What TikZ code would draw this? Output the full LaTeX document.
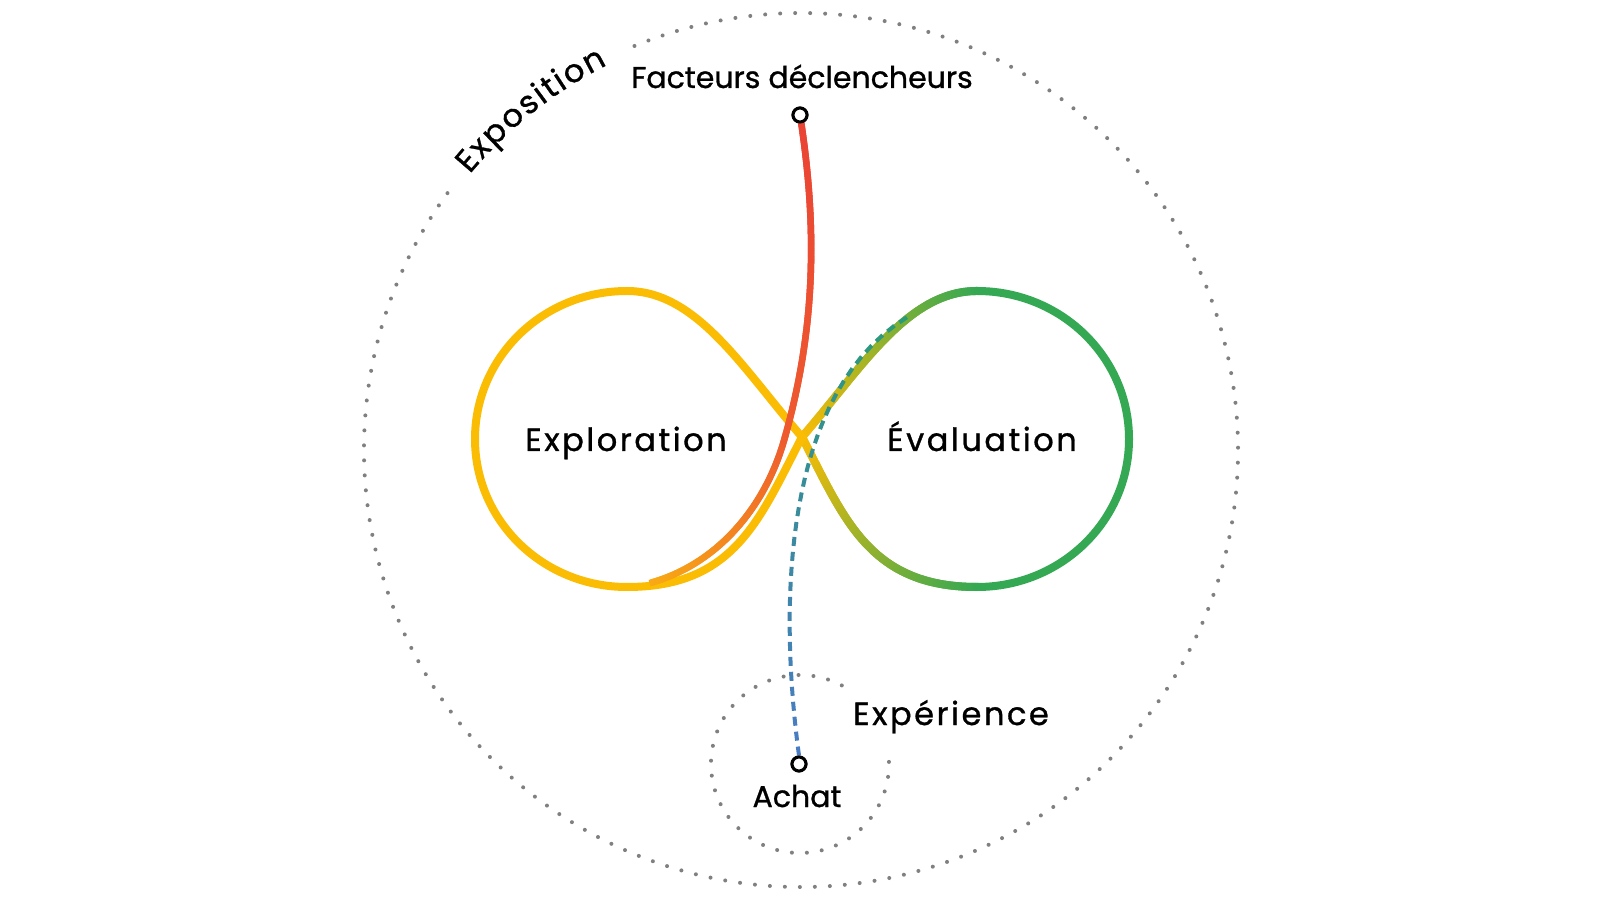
\documentclass[tikz,border=0pt]{standalone}
\usepackage{fontspec}
\setmainfont{Poppins}[FakeBold=1]
\newfontfamily\spacedfont[LetterSpace=8,FakeBold=1]{Poppins}
\usetikzlibrary{decorations.markings,decorations.text}
\definecolor{gyellow}{HTML}{FBBC04}
\definecolor{ggreen}{HTML}{34A853}
\definecolor{gred}{HTML}{EA4335}
\definecolor{gredor}{HTML}{EE5A2E}
\definecolor{gendor}{HTML}{F8AA14}
\definecolor{gblue}{HTML}{4A7CC4}
\definecolor{gteal}{HTML}{2A9A78}
\definecolor{dotgray}{HTML}{808080}
\tikzset{
  gradline/.style n args={3}{%
    decoration={markings, mark=between positions 0 and 1 step 1.2pt with {%
      \pgfmathtruncatemacro\gp{min(100,round(100*(\pgfkeysvalueof{/pgf/decoration/mark info/distance from start}/\pgfdecoratedpathlength)))}%
      \draw[line width=#3, color=#2!\gp!#1] (-1.3pt,0) -- (1.3pt,0);}},
    postaction={decorate}},
  graddash/.style n args={3}{%
    decoration={markings, mark=between positions 0 and 1 step 15pt with {%
      \pgfmathtruncatemacro\gp{min(100,round(100*(\pgfkeysvalueof{/pgf/decoration/mark info/distance from start}/\pgfdecoratedpathlength)))}%
      \draw[line width=#3, color=#2!\gp!#1] (0,0) -- (9pt,0);}},
    postaction={decorate}},
  lobe/.style={line width=8pt, line cap=round, line join=round},
  dotring/.style={draw=dotgray, line width=4pt, line cap=round, dash pattern=on 0pt off 15pt},
  marker/.style={circle, draw=black, fill=white, line width=3pt, minimum size=14pt, inner sep=0pt},
  lbl/.style={font=\fontsize{30}{36}\selectfont, text=black, inner sep=0pt, anchor=base},
  spaced/.style={font=\spacedfont\fontsize{32}{38}\selectfont, text=black, inner sep=0pt, anchor=base},
}
\begin{document}
\begin{tikzpicture}[x=1pt,y=1pt]
\useasboundingbox (0,0) rectangle (1600,900);
\fill[white] (0,0) rectangle (1600,900);
% named points
\coordinate (C) at (802,463);
\coordinate (TL) at (627,609);
\coordinate (LL) at (475,461);
\coordinate (BL) at (627,313);
\coordinate (TR) at (977,609);
\coordinate (RR) at (1129,461);
\coordinate (BR) at (977,313);
\coordinate (rmid) at (785,463);
\coordinate (rend) at (650,317);
\coordinate (bend) at (900,578);
% dotted rings
\draw[dotring] (801,450) ++(144:437) arc[start angle=144, end angle=473, radius=437];
\draw[dotring] (800,136) ++(62:89) arc[start angle=62, end angle=364, radius=89];
% right lobe
\draw[lobe, ggreen] (TR) .. controls (1061,609) and (1129,543) .. (RR)
                         .. controls (1129,379) and (1061,313) .. (BR);
\path[gradline={gyellow}{ggreen}{8pt}] (C) .. controls (861,531) and (907,609) .. (TR);
\path[gradline={ggreen}{gyellow}{8pt}] (BR) .. controls (869,313) and (844,382) .. (C);
% left lobe
\draw[lobe, gyellow] (C) .. controls (743,531) and (697,609) .. (TL)
   .. controls (543,609) and (475,543) .. (LL)
   .. controls (475,379) and (543,313) .. (BL)
   .. controls (735,313) and (760,382) .. (C);
% markers (nodes)
\node[marker] (trig) at (800,785) {};
\node[marker] (achat) at (799,136) {};
% red curve
\path[gradline={gred}{gredor}{6.5pt}] (trig.center) .. controls (818,670) and (815,570) .. (rmid);
\path[gradline={gredor}{gendor}{6.5pt}] (rmid) .. controls (765,390) and (715,335) .. (rend);
% blue dashed curve
\path[graddash={gblue}{gteal}{4pt}] (achat.north) .. controls (778,300) and (785,500) .. (bend);
% redraw markers on top
\node[marker] at (trig) {};
\node[marker] at (achat) {};
% labels
\node[lbl] (fact) at (802,812) {Facteurs déclencheurs};
\node[lbl] (achatlbl) at (797,93) {Achat};
\node[spaced] (explo) at (626,449) {Exploration};
\node[spaced] (eval) at (982,449) {Évaluation};
\node[spaced] (exper) at (951,175) {Expérience};
\path[decorate, decoration={text along path, text={|\spacedfont\fontsize{32}{38}\selectfont|Exposition}, text align=fit to path}]
  (801,450) ++(140.2:431) arc[start angle=140.2, end angle=116.7, radius=431];
\end{tikzpicture}
\end{document}
